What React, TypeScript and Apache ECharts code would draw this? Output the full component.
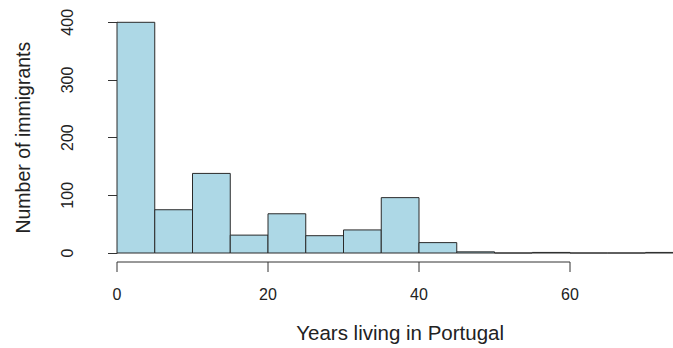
import React, { useEffect, useRef } from "react";
import * as echarts from "echarts";

const binStarts = [0, 5, 10, 15, 20, 25, 30, 35, 40, 45, 50, 55, 60, 65, 70];
const binWidth = 5;
const counts = [400, 75, 138, 31, 68, 30, 40, 96, 18, 2, 0, 1, 0, 0, 1];
const xTicks = [0, 20, 40, 60];
const yTicks = [0, 100, 200, 300, 400];
const xTitle = "Years living in Portugal";
const yTitle = "Number of immigrants";

const FONT = "Liberation Sans, Arial, Helvetica, sans-serif";

export default function App() {
  const ref = useRef<HTMLDivElement>(null);
  useEffect(() => {
    document.body.style.margin = "0";
    const chart = echarts.init(ref.current!, null, { renderer: "svg" });
    const axisOffsetX = 9;
    const tickLen = 10;
    chart.setOption({
      animation: false,
      backgroundColor: "#ffffff",
      grid: { left: 117, top: 22.3, width: 566.25, height: 232 },
      xAxis: {
        type: "value",
        min: 0,
        max: 75,
        interval: 20,
        offset: axisOffsetX,
        splitLine: { show: false },
        axisLine: { show: false },
        axisTick: { show: false },
        axisLabel: {
          customValues: xTicks,
          margin: 24,
          fontSize: 16,
          color: "#222",
          fontFamily: FONT,
        },
        name: xTitle,
        nameLocation: "middle",
        nameGap: 60,
        nameTextStyle: { fontSize: 20.5, color: "#222", fontFamily: FONT },
      },
      yAxis: {
        type: "value",
        min: yTicks[0],
        max: yTicks[yTicks.length - 1],
        interval: 100,
        offset: 23,
        splitLine: { show: false },
        axisLine: { show: true, lineStyle: { color: "#333", width: 1 } },
        axisTick: { show: true, length: 9, lineStyle: { color: "#333", width: 1 } },
        axisLabel: {
          rotate: 90,
          margin: 19,
          fontSize: 16,
          color: "#222",
          fontFamily: FONT,
          align: "center",
          verticalAlign: "bottom",
        },
        name: yTitle,
        nameLocation: "middle",
        nameGap: 61,
        nameTextStyle: { fontSize: 19.5, color: "#222", fontFamily: FONT },
      },
      series: [
        {
          type: "custom",
          data: binStarts.map((s, i) => [s, counts[i]]),
          renderItem: (params: any, api: any) => {
            const x0 = api.value(0);
            const h = api.value(1);
            const p0 = api.coord([x0, h]);
            const p1 = api.coord([x0 + binWidth, 0]);
            return {
              type: "rect",
              shape: { x: p0[0], y: p0[1], width: p1[0] - p0[0], height: p1[1] - p0[1] },
              style: { fill: "#ADD8E6", stroke: "#2a2a2a", lineWidth: 1 },
            };
          },
        },
        {
          type: "custom",
          data: [[xTicks[0], xTicks[xTicks.length - 1]]],
          renderItem: (params: any, api: any) => {
            const a = api.coord([api.value(0), 0]);
            const b = api.coord([api.value(1), 0]);
            const y = a[1] + axisOffsetX;
            return {
              type: "line",
              shape: { x1: a[0], y1: y, x2: b[0], y2: y },
              style: { stroke: "#333", lineWidth: 1 },
            };
          },
        },
        {
          type: "custom",
          data: xTicks.map((t) => [t]),
          renderItem: (params: any, api: any) => {
            const a = api.coord([api.value(0), 0]);
            const y = a[1] + axisOffsetX;
            return {
              type: "line",
              shape: { x1: a[0], y1: y, x2: a[0], y2: y + tickLen },
              style: { stroke: "#333", lineWidth: 1 },
            };
          },
        },
      ],
    });
    return () => chart.dispose();
  }, []);
  return (
    <div style={{ width: 673, height: 348, position: "absolute", left: 0, top: 0, overflow: "hidden" }}>
      <div ref={ref} style={{ width: 700, height: 348 }} />
    </div>
  );
}
